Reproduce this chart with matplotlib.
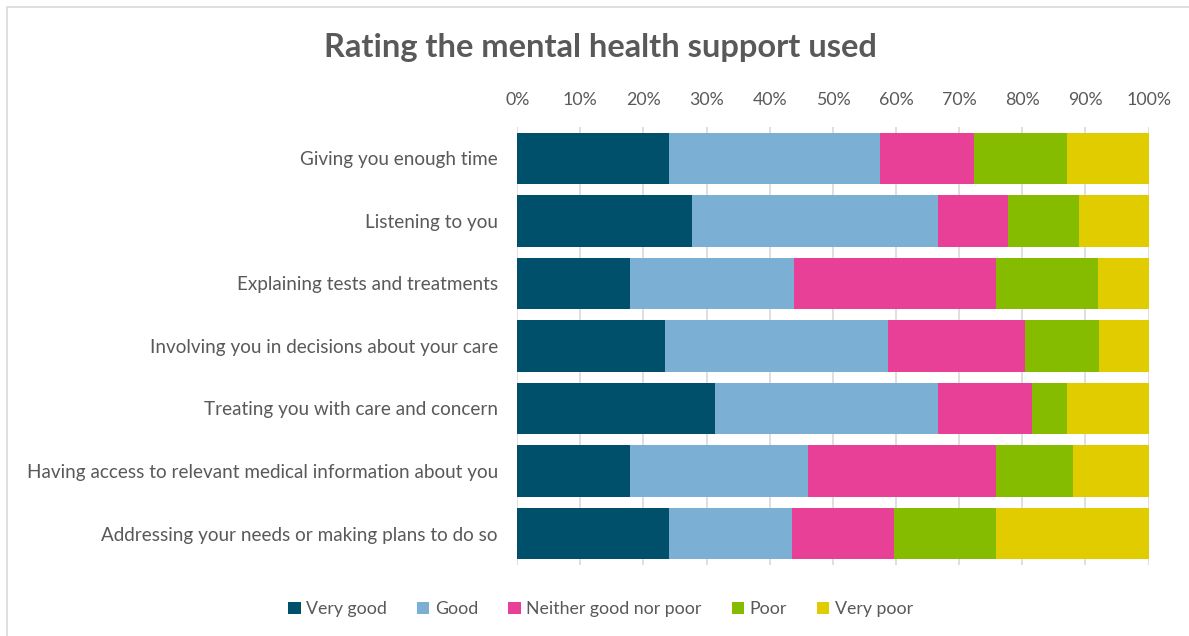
import numpy as np
import matplotlib.pyplot as plt
from matplotlib.patches import Rectangle

plt.rcParams['font.family'] = ['Lato', 'DejaVu Sans']

categories = [
    "Giving you enough time",
    "Listening to you",
    "Explaining tests and treatments",
    "Involving you in decisions about your care",
    "Treating you with care and concern",
    "Having access to relevant medical information about you",
    "Addressing your needs or making plans to do so",
]
very_good = [24.0, 27.7, 17.9, 23.4, 31.4, 17.9, 24.1]
good = [33.4, 38.9, 26.0, 35.4, 35.2, 28.1, 19.4]
neither = [14.9, 11.2, 32.0, 21.7, 14.9, 29.9, 16.2]
poor = [14.8, 11.2, 16.1, 11.7, 5.6, 12.2, 16.1]
very_poor = [12.9, 11.0, 8.0, 7.8, 12.9, 11.9, 24.2]

series = [
    ("Very good", very_good, "#00506B"),
    ("Good", good, "#7BAFD4"),
    ("Neither good nor poor", neither, "#E84096"),
    ("Poor", poor, "#86BC00"),
    ("Very poor", very_poor, "#E1CC00"),
]

fig = plt.figure(figsize=(11.89, 6.36), dpi=100)
ax = fig.add_axes([0.435, 0.112, 0.531, 0.688])

y = np.arange(len(categories))
left = np.zeros(len(categories))
for name, vals, col in series:
    vals = np.array(vals)
    ax.barh(y, vals, left=left, height=0.83, color=col, label=name, zorder=2)
    left += vals

ax.set_xlim(0, 100)
ax.set_ylim(len(categories) - 0.5, -0.5)
ax.set_xticks(np.arange(0, 101, 10))
ax.set_xticklabels([f"{v}%" for v in range(0, 101, 10)])
ax.xaxis.tick_top()
ax.tick_params(axis='x', length=0, pad=14, labelsize=12.8, labelcolor="#595959")
ax.set_yticks(y)
ax.set_yticklabels(categories)
ax.tick_params(axis='y', length=0, pad=14, labelsize=13.6, labelcolor="#595959")
ax.grid(axis='x', color="#D9D9D9", linewidth=1.2, zorder=0)
for s in ax.spines.values():
    s.set_visible(False)

fig.text(0.505, 0.925, "Rating the mental health support used", ha='center', va='center',
         fontsize=23.5, fontweight='bold', color="#595959")

fig.legend(loc='center', bbox_to_anchor=(0.505, 0.042), ncol=5, frameon=False,
           fontsize=12.8, labelcolor="#595959", handlelength=0.7, handleheight=0.7,
           handletextpad=0.3, columnspacing=1.7)

fig.patches.append(Rectangle((0.006, -0.01), 1.0, 0.999, transform=fig.transFigure,
                             fill=False, edgecolor="#D9D9D9", linewidth=1.2))

fig.savefig("out.png", dpi=100)
